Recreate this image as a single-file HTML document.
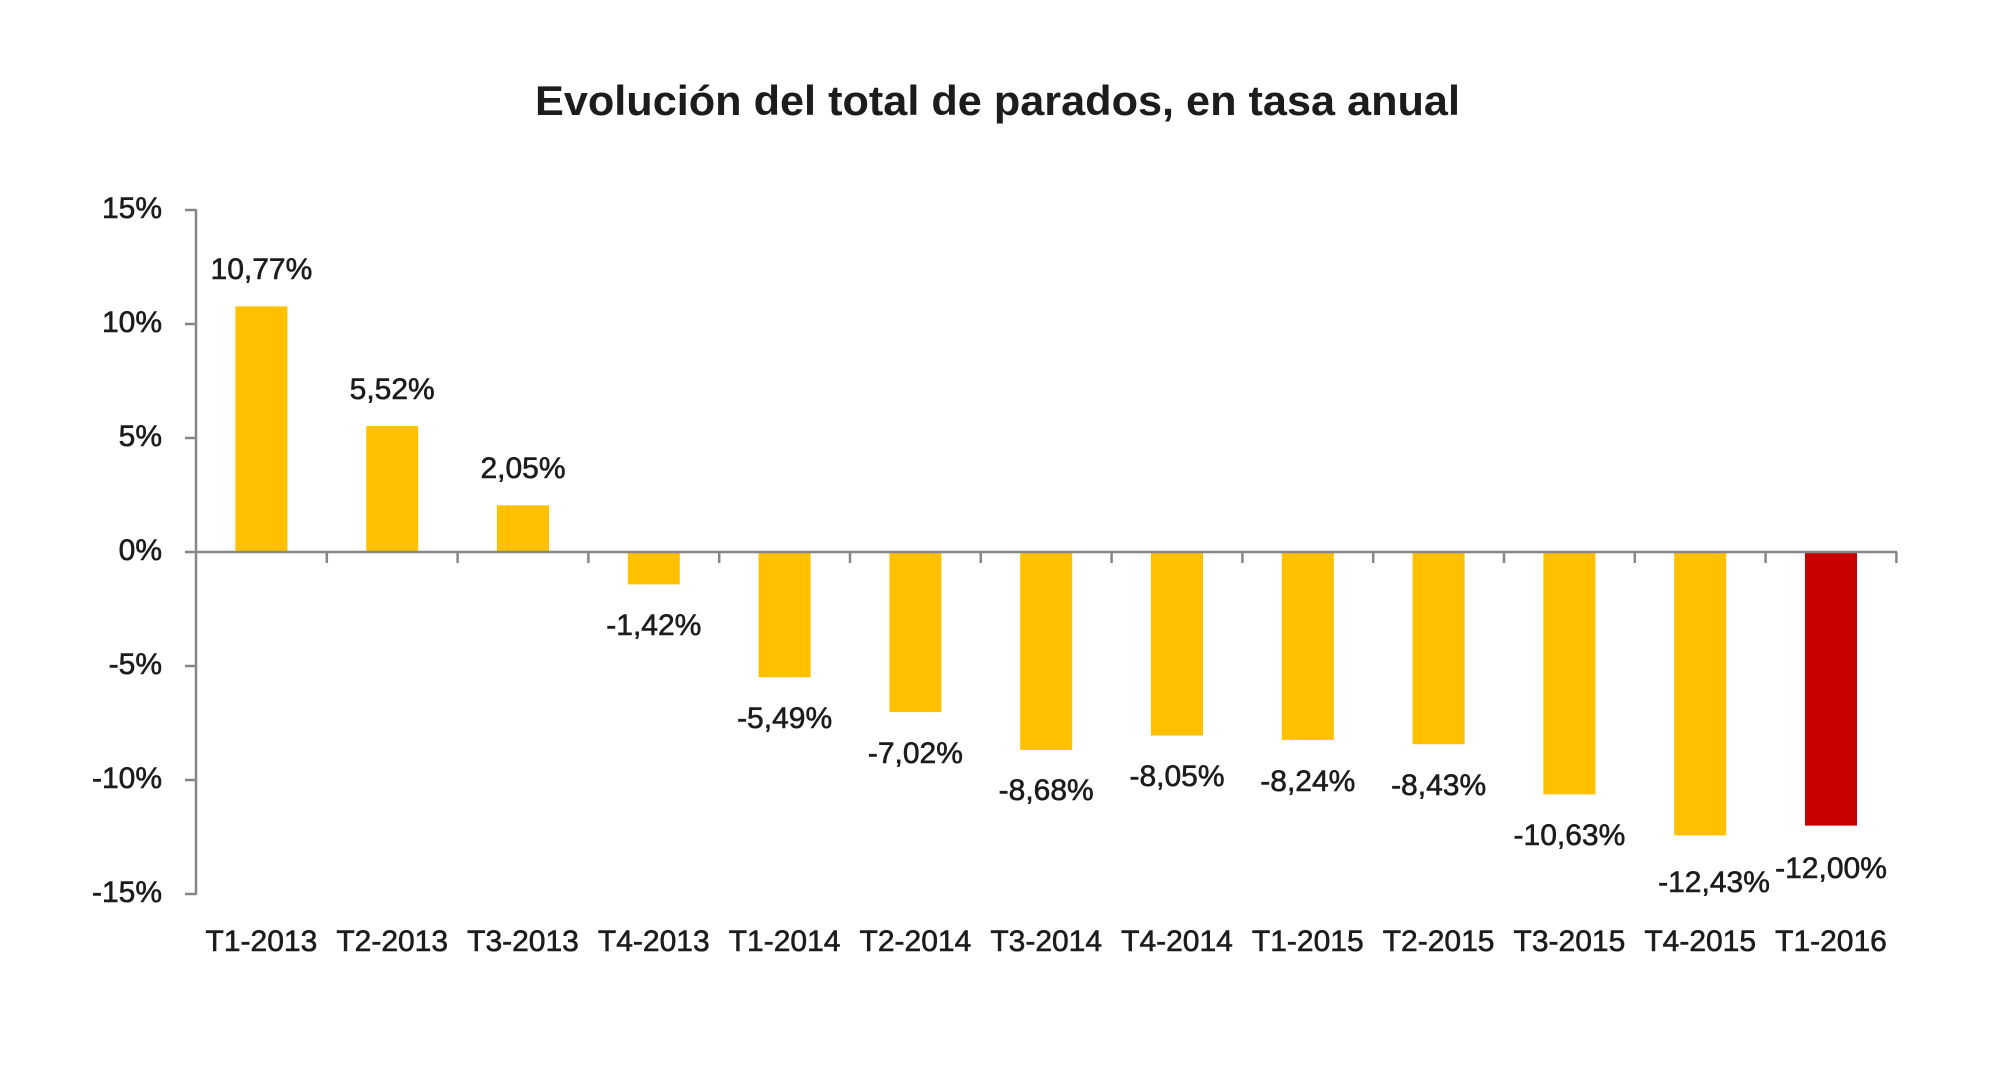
<!DOCTYPE html>
<html>
<head>
<meta charset="utf-8">
<style>
  html, body { margin:0; padding:0; background:#ffffff; }
  body { width:2001px; height:1080px; overflow:hidden; }
  svg { display:block; }
  text { font-family: "Liberation Sans", Arial, sans-serif; fill:#1c1c1c; }
  .lbl text { stroke:#1c1c1c; stroke-width:0.6; }
</style>
</head>
<body>
<svg width="2001" height="1080" viewBox="0 0 2001 1080" xmlns="http://www.w3.org/2000/svg">
  <rect x="0" y="0" width="2001" height="1080" fill="#ffffff"/>

  <!-- Title -->
  <text x="997.5" y="115" text-anchor="middle" font-size="42" font-weight="bold" fill="#111" textLength="925" lengthAdjust="spacingAndGlyphs">Evolución del total de parados, en tasa anual</text>

  <!-- Bars -->
  <g fill="#FFC000">
    <rect x="235.4" y="306.4" width="52" height="245.6"/>
    <rect x="366.2" y="426.1" width="52" height="125.9"/>
    <rect x="497.0" y="505.3" width="52" height="46.7"/>
    <rect x="627.8" y="552" width="52" height="32.4"/>
    <rect x="758.6" y="552" width="52" height="125.2"/>
    <rect x="889.4" y="552" width="52" height="160.1"/>
    <rect x="1020.2" y="552" width="52" height="197.9"/>
    <rect x="1151.0" y="552" width="52" height="183.5"/>
    <rect x="1281.8" y="552" width="52" height="187.9"/>
    <rect x="1412.6" y="552" width="52" height="192.2"/>
    <rect x="1543.4" y="552" width="52" height="242.4"/>
    <rect x="1674.2" y="552" width="52" height="283.4"/>
  </g>
  <rect x="1805.0" y="552" width="52" height="273.6" fill="#C80000"/>

  <!-- Axes -->
  <g stroke="#868686" stroke-width="2.5" fill="none">
    <line x1="196" y1="209" x2="196" y2="895"/>
    <line x1="185" y1="210" x2="196" y2="210"/>
    <line x1="185" y1="324" x2="196" y2="324"/>
    <line x1="185" y1="438" x2="196" y2="438"/>
    <line x1="185" y1="552" x2="196" y2="552"/>
    <line x1="185" y1="666" x2="196" y2="666"/>
    <line x1="185" y1="780" x2="196" y2="780"/>
    <line x1="185" y1="894" x2="196" y2="894"/>
    <line x1="196" y1="552" x2="1897" y2="552"/>
    <line x1="326.8" y1="552" x2="326.8" y2="563"/>
    <line x1="457.6" y1="552" x2="457.6" y2="563"/>
    <line x1="588.4" y1="552" x2="588.4" y2="563"/>
    <line x1="719.2" y1="552" x2="719.2" y2="563"/>
    <line x1="850.0" y1="552" x2="850.0" y2="563"/>
    <line x1="980.8" y1="552" x2="980.8" y2="563"/>
    <line x1="1111.6" y1="552" x2="1111.6" y2="563"/>
    <line x1="1242.4" y1="552" x2="1242.4" y2="563"/>
    <line x1="1373.2" y1="552" x2="1373.2" y2="563"/>
    <line x1="1504.0" y1="552" x2="1504.0" y2="563"/>
    <line x1="1634.8" y1="552" x2="1634.8" y2="563"/>
    <line x1="1765.6" y1="552" x2="1765.6" y2="563"/>
    <line x1="1896.4" y1="552" x2="1896.4" y2="563"/>
  </g>

  <!-- Y tick labels -->
  <g class="lbl" font-size="30" text-anchor="end">
    <text x="162" y="218">15%</text>
    <text x="162" y="332">10%</text>
    <text x="162" y="446">5%</text>
    <text x="162" y="560">0%</text>
    <text x="162" y="674">-5%</text>
    <text x="162" y="788">-10%</text>
    <text x="162" y="902">-15%</text>
  </g>

  <!-- Category labels -->
  <g class="lbl" font-size="30" text-anchor="middle">
    <text x="261.4" y="951">T1-2013</text>
    <text x="392.2" y="951">T2-2013</text>
    <text x="523.0" y="951">T3-2013</text>
    <text x="653.8" y="951">T4-2013</text>
    <text x="784.6" y="951">T1-2014</text>
    <text x="915.4" y="951">T2-2014</text>
    <text x="1046.2" y="951">T3-2014</text>
    <text x="1177.0" y="951">T4-2014</text>
    <text x="1307.8" y="951">T1-2015</text>
    <text x="1438.6" y="951">T2-2015</text>
    <text x="1569.4" y="951">T3-2015</text>
    <text x="1700.2" y="951">T4-2015</text>
    <text x="1831.0" y="951">T1-2016</text>
  </g>

  <!-- Data labels -->
  <g class="lbl" font-size="30" text-anchor="middle">
    <text x="261.4" y="279">10,77%</text>
    <text x="392.2" y="399">5,52%</text>
    <text x="523.0" y="478">2,05%</text>
    <text x="653.8" y="635">-1,42%</text>
    <text x="784.6" y="728">-5,49%</text>
    <text x="915.4" y="763">-7,02%</text>
    <text x="1046.2" y="800">-8,68%</text>
    <text x="1177.0" y="786">-8,05%</text>
    <text x="1307.8" y="791">-8,24%</text>
    <text x="1438.6" y="795">-8,43%</text>
    <text x="1569.4" y="845">-10,63%</text>
    <text x="1714.0" y="892">-12,43%</text>
    <text x="1831.0" y="878">-12,00%</text>
  </g>
</svg>
</body>
</html>
